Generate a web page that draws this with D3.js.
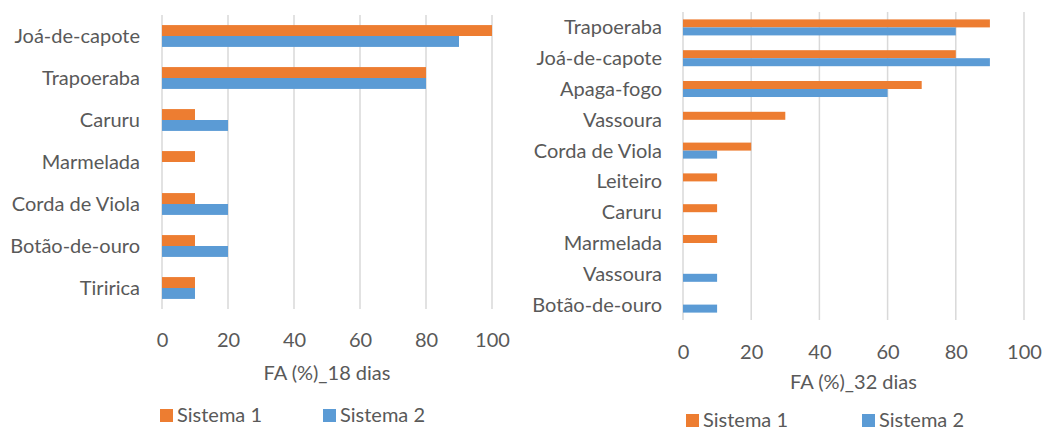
<!DOCTYPE html>
<html>
<head>
<meta charset="utf-8">
<script src="https://cdn.jsdelivr.net/npm/d3@7"></script>
<style>
  body { margin: 0; background: #ffffff; }
  svg text { font-family: Lato, "Open Sans", sans-serif; fill: #595959; }
</style>
</head>
<body>
<svg id="chart" width="1047" height="430"></svg>
<script>
// Series names and colours
var seriesNames  = ['Sistema 1', 'Sistema 2'];
var seriesColors = ['#ED7D31', '#5B9BD5'];
var xTicks       = [0, 20, 40, 60, 80, 100];

// FA (%) at 18 days
var cats18      = ['Joá-de-capote', 'Trapoeraba', 'Caruru', 'Marmelada', 'Corda de Viola', 'Botão-de-ouro', 'Tiririca'];
var sistema1_18 = [100, 80, 10, 10, 10, 10, 10];
var sistema2_18 = [90, 80, 20, 0, 20, 20, 10];

// FA (%) at 32 days
var cats32      = ['Trapoeraba', 'Joá-de-capote', 'Apaga-fogo', 'Vassoura', 'Corda de Viola', 'Leiteiro', 'Caruru', 'Marmelada', 'Vassoura', 'Botão-de-ouro'];
var sistema1_32 = [90, 80, 70, 30, 20, 10, 10, 10, 0, 0];
var sistema2_32 = [80, 90, 60, 0, 10, 0, 0, 0, 10, 10];

var svg = d3.select('#chart');

function drawPanel(cfg)
{
    var g = svg.append('g');
    var n = cfg.cats.length;

    var x = d3.scaleLinear().domain([0, 100]).range([cfg.left, cfg.right]);
    // index based band, because a category name can repeat (Vassoura)
    var y = d3.scaleBand()
        .domain(d3.range(n))
        .range([cfg.top, cfg.bottom])
        .paddingInner(0.48)
        .paddingOuter(0.24);
    var sub = d3.scaleBand().domain([0, 1]).range([0, y.bandwidth()]);

    // gridlines
    g.selectAll('.grid')
        .data(xTicks)
        .enter()
        .append('line')
        .attr('x1', d => x(d)).attr('x2', d => x(d))
        .attr('y1', cfg.top).attr('y2', cfg.bottom)
        .style('stroke', '#d9d9d9')
        .style('stroke-width', 1.5);

    // bars
    [cfg.s1, cfg.s2].forEach(function(vals, si){
        var rows = vals.map((v, i) => ({v: v, i: i})).filter(r => r.v > 0);
        g.selectAll('.bar' + si)
            .data(rows)
            .enter()
            .append('rect')
            .attr('class', 'bar' + si)
            .attr('x', x(0))
            .attr('y', r => y(r.i) + sub(si))
            .attr('width', r => x(r.v) - x(0))
            .attr('height', sub.bandwidth())
            .style('fill', seriesColors[si]);
    });

    // category labels
    g.selectAll('.cat')
        .data(cfg.cats)
        .enter()
        .append('text')
        .attr('x', cfg.labelRight)
        .attr('y', (d, i) => y(i) + y.bandwidth() / 2)
        .attr('dy', '0.35em')
        .attr('text-anchor', 'end')
        .style('font-size', cfg.font + 'px')
        .text(d => d);

    // x axis tick labels
    var axis = d3.axisBottom(x).tickValues(xTicks).tickSize(0).tickPadding(0);
    var ax = g.append('g')
        .attr('transform', 'translate(0,' + cfg.tickY + ')')
        .call(axis);
    ax.select('.domain').remove();
    ax.selectAll('text')
        .attr('dy', '0.35em')
        .style('font-size', cfg.font + 'px')
        .style('font-family', 'Lato, "Open Sans", sans-serif')
        .style('fill', '#595959');

    // axis title
    g.append('text')
        .attr('x', (cfg.left + cfg.right) / 2)
        .attr('y', cfg.titleY)
        .attr('dy', '0.35em')
        .attr('text-anchor', 'middle')
        .style('font-size', cfg.font + 'px')
        .text(cfg.title);

    // legend
    seriesNames.forEach(function(name, si){
        var lx = cfg.legendX[si];
        g.append('rect')
            .attr('x', lx)
            .attr('y', cfg.legendY - 6)
            .attr('width', 13)
            .attr('height', 13)
            .style('fill', seriesColors[si]);
        g.append('text')
            .attr('x', lx + 17)
            .attr('y', cfg.legendY)
            .attr('dy', '0.35em')
            .style('font-size', cfg.font + 'px')
            .text(name);
    });
}

drawPanel({
    cats: cats18, s1: sistema1_18, s2: sistema2_18,
    left: 162, right: 492, top: 15, bottom: 309,
    labelRight: 140, tickY: 340, titleY: 373,
    legendY: 415, legendX: [160, 323],
    font: 20, title: 'FA (%)_18 dias'
});

drawPanel({
    cats: cats32, s1: sistema1_32, s2: sistema2_32,
    left: 683, right: 1024, top: 12, bottom: 320,
    labelRight: 662, tickY: 352, titleY: 382,
    legendY: 420, legendX: [686, 862],
    font: 20, title: 'FA (%)_32 dias'
});
</script>
</body>
</html>
